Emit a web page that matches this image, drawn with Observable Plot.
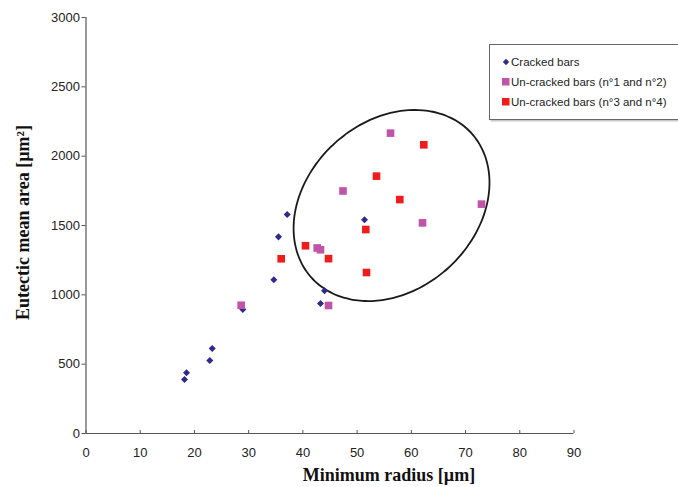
<!DOCTYPE html>
<html>
<head>
<meta charset="utf-8">
<script src="https://cdn.jsdelivr.net/npm/d3@7"></script>
<script src="https://cdn.jsdelivr.net/npm/@observablehq/plot@0.6"></script>
<style>
  html, body { margin: 0; padding: 0; background: #fff; }
  #chart { width: 678px; height: 487px; }
</style>
</head>
<body>
<div id="chart"></div>
<script>
// ---- data ----
const seriesNames = ["Cracked bars", "Un-cracked bars (n°1 and n°2)", "Un-cracked bars (n°3 and n°4)"];
const crackedX = [18.17, 18.54, 22.83, 23.28, 28.92, 34.64, 35.50, 37.11, 43.25, 43.99, 51.36];
const crackedY = [389, 438, 526, 613, 894, 1108, 1418, 1579, 937, 1029, 1541];
const unc12X = [28.62, 42.64, 43.25, 44.73, 47.40, 56.16, 62.06, 72.94];
const unc12Y = [925, 1338, 1325, 923, 1749, 2166, 1519, 1654];
const unc34X = [36.00, 40.48, 44.73, 51.60, 51.73, 53.58, 57.87, 62.30];
const unc34Y = [1260, 1354, 1261, 1471, 1161, 1856, 1687, 2082];
const xTicks = [0, 10, 20, 30, 40, 50, 60, 70, 80, 90];
const yTicks = [0, 500, 1000, 1500, 2000, 2500, 3000];
const xLabel = "Minimum radius [µm]";
const yLabel = "Eutectic mean area [µm²]";
// ellipse annotation (data units): center and conjugate half-axes
const ellipseCenter = [56.35, 1644];
const ellipseAxisA = [14.77, 520];
const ellipseAxisB = [-10.4, 452];

// ---- styles ----
const colors = ["#2e2a8e", "#c054a8", "#f01c1c"];

const toRows = (xs, ys) => xs.map((x, i) => ({x, y: ys[i]}));
const cracked = toRows(crackedX, crackedY);
const unc12 = toRows(unc12X, unc12Y);
const unc34 = toRows(unc34X, unc34Y);

const ellipse = d3.range(0, 361, 3).map(deg => {
  const t = deg * Math.PI / 180;
  return {
    x: ellipseCenter[0] + ellipseAxisA[0] * Math.cos(t) + ellipseAxisB[0] * Math.sin(t),
    y: ellipseCenter[1] + ellipseAxisA[1] * Math.cos(t) + ellipseAxisB[1] * Math.sin(t)
  };
});

const diamond = {
  draw(ctx, size) {
    const r = Math.sqrt(size / 2);
    ctx.moveTo(0, -r); ctx.lineTo(r, 0); ctx.lineTo(0, r); ctx.lineTo(-r, 0); ctx.closePath();
  }
};

const plot = Plot.plot({
  width: 678,
  height: 487,
  marginLeft: 85.5,
  marginRight: 104.5,
  marginTop: 17,
  marginBottom: 54,
  style: {fontFamily: "'Liberation Sans', Arial, sans-serif", fontSize: "13px", color: "#222", background: "#fff"},
  x: {domain: [0, 90]},
  y: {domain: [0, 3000]},
  marks: [
    Plot.axisX({ticks: xTicks, tickSize: 0, tickPadding: 14, tickFormat: d => String(d), label: null, fill: "#222", fontSize: 13}),
    Plot.ruleX(xTicks, {x: d => d, y1: 0, y2: 0, insetTop: -3, stroke: "#555", strokeWidth: 1}),
    Plot.axisY({ticks: yTicks, tickSize: 4, tickPadding: 2, tickFormat: d => String(d), label: null, stroke: "#555", fill: "#222", fontSize: 13}),
    Plot.ruleX([0], {stroke: "#555", strokeWidth: 1.2}),
    Plot.ruleY([0], {stroke: "#555", strokeWidth: 1.2}),
    Plot.line(ellipse, {x: "x", y: "y", stroke: "#1a1a1a", strokeWidth: 1.8, curve: "catmull-rom"}),
    Plot.dot(cracked, {x: "x", y: "y", symbol: diamond, r: 2.8, fill: colors[0], stroke: "none"}),
    Plot.dot(unc12, {x: "x", y: "y", symbol: "square", r: 4.3, fill: colors[1], stroke: "none"}),
    Plot.dot(unc34, {x: "x", y: "y", symbol: "square", r: 4.3, fill: colors[2], stroke: "none"})
  ]
});

document.getElementById("chart").appendChild(plot);

// axis titles
const svg = d3.select(plot);
svg.append("text")
  .attr("x", 389).attr("y", 481)
  .attr("text-anchor", "middle")
  .attr("font-family", "'Liberation Serif', 'Times New Roman', serif")
  .attr("font-weight", "bold").attr("font-size", 18).attr("fill", "#111")
  .text(xLabel);
svg.append("text")
  .attr("transform", "translate(28.5,222.5) rotate(-90)")
  .attr("text-anchor", "middle")
  .attr("font-family", "'Liberation Serif', 'Times New Roman', serif")
  .attr("font-weight", "bold").attr("font-size", 18).attr("fill", "#111")
  .text(yLabel);

// legend
const lg = svg.append("g")
  .attr("font-family", "'Liberation Sans', Arial, sans-serif")
  .attr("font-size", 11.5).attr("fill", "#222").attr("text-anchor", "start");
lg.append("rect").attr("x", 490.5).attr("y", 46.5).attr("width", 200).attr("height", 75).attr("fill", "#c8c8c8");
lg.append("rect").attr("x", 489.5).attr("y", 44.5).attr("width", 200).attr("height", 75).attr("fill", "#fff").attr("stroke", "#666").attr("stroke-width", 1);
const rowsY = [62, 82, 102];
seriesNames.forEach((name, i) => {
  const y = rowsY[i];
  if (i === 0) {
    lg.append("path").attr("d", `M506,${y - 3.2}L509.2,${y}L506,${y + 3.2}L502.8,${y}Z`).attr("fill", colors[0]);
  } else {
    lg.append("rect").attr("x", 502).attr("y", y - 4).attr("width", 7.5).attr("height", 7.5).attr("fill", colors[i]);
  }
  lg.append("text").attr("x", 511).attr("y", y + 4).attr("text-anchor", "start").text(name);
});
</script>
</body>
</html>
